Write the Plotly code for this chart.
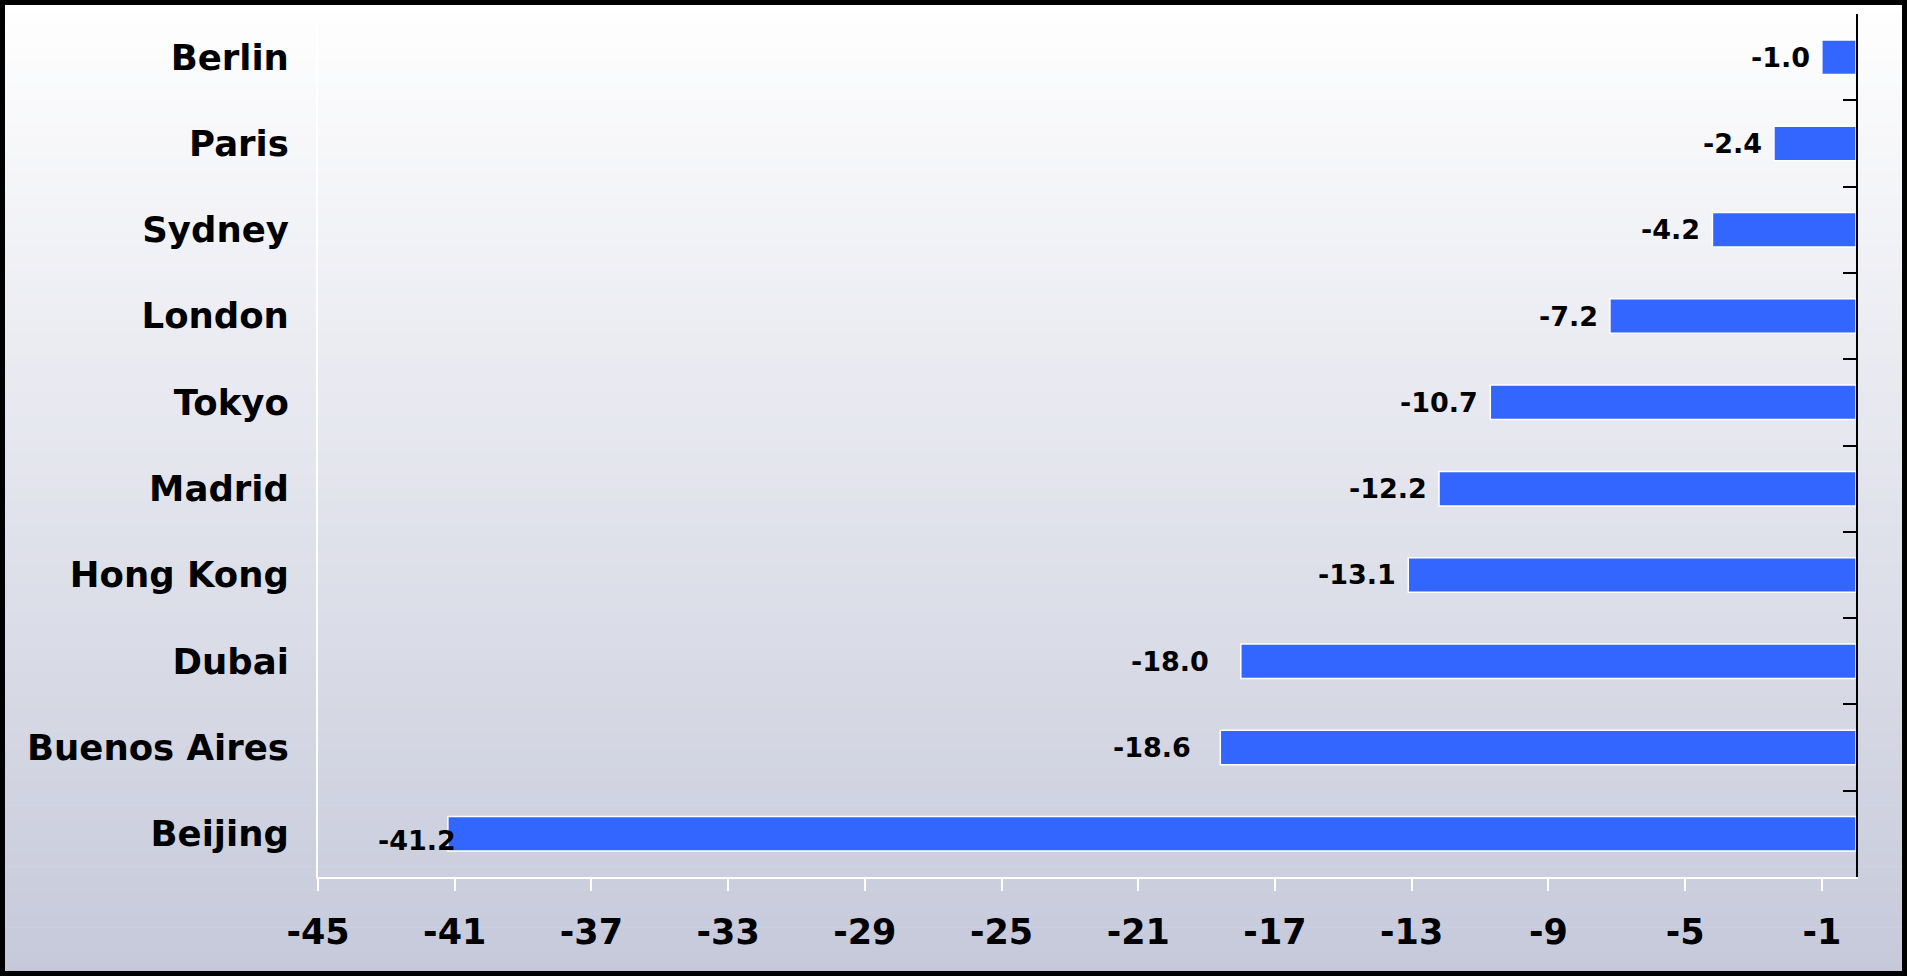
import plotly.graph_objects as go

# Change in value by city (top to bottom)
cities = ["Berlin", "Paris", "Sydney", "London", "Tokyo", "Madrid",
          "Hong Kong", "Dubai", "Buenos Aires", "Beijing"]
changes = [-1.0, -2.4, -4.2, -7.2, -10.7, -12.2, -13.1, -18.0, -18.6, -41.2]

x_ticks = [-45, -41, -37, -33, -29, -25, -21, -17, -13, -9, -5, -1]

# label placement tweaks (pixels) for the value labels
label_nudge_x = {"Dubai": -20, "Buenos Aires": -17, "Beijing": 20}
label_nudge_y = {"Beijing": -7}

W, H = 1907, 976
ML, MR, MT, MB = 318, 51, 14, 99
PW, PH = W - ML - MR, H - MT - MB

BAR_BLUE = "#3366FF"
FONT = "DejaVu Sans, Liberation Sans, Arial, sans-serif"


def px_to_paper_x(px):
    return (px - ML) / PW


def px_to_paper_y(py):
    return (H - MB - py) / PH


fig = go.Figure()

fig.add_trace(go.Bar(
    x=changes,
    y=cities,
    orientation="h",
    width=0.4,
    marker=dict(color=BAR_BLUE, line=dict(color="white", width=1.5)),
    hoverinfo="x+y",
    showlegend=False,
))

# empty trace so the right-hand boundary axis gets drawn
fig.add_trace(go.Scatter(x=[None], y=[None], yaxis="y2", showlegend=False,
                         hoverinfo="skip"))

# value labels to the left of each bar end
for city, v in zip(cities, changes):
    fig.add_annotation(
        x=v, y=city, xref="x", yref="y",
        text=f"{v:.1f}", showarrow=False,
        xanchor="right", yanchor="middle",
        xshift=-10 + label_nudge_x.get(city, 0),
        yshift=label_nudge_y.get(city, 0),
        font=dict(family=FONT, size=27, color="black", weight="bold"),
    )

# vertical background gradient (white to pale blue-grey)
shapes = []
top_rgb = (255, 255, 255)
bot_rgb = (198, 201, 218)
n_bands = 80
band = H / n_bands
for i in range(n_bands):
    t = (i + 0.5) / n_bands
    c = tuple(round(a + (b - a) * t) for a, b in zip(top_rgb, bot_rgb))
    y0 = i * band
    y1 = (i + 1) * band + 0.6
    shapes.append(dict(
        type="rect", layer="below", xref="paper", yref="paper",
        x0=px_to_paper_x(0), x1=px_to_paper_x(W),
        y0=px_to_paper_y(y1), y1=px_to_paper_y(y0),
        fillcolor=f"rgb{c}", line=dict(width=0),
    ))

# black frame around the whole chart
shapes.append(dict(
    type="rect", layer="above", xref="paper", yref="paper",
    x0=px_to_paper_x(2.5), x1=px_to_paper_x(W - 2.5),
    y0=px_to_paper_y(H - 2.5), y1=px_to_paper_y(2.5),
    line=dict(color="black", width=5), fillcolor="rgba(0,0,0,0)",
))

fig.update_layout(
    width=W, height=H,
    margin=dict(l=ML, r=MR, t=MT, b=MB, pad=0),
    paper_bgcolor="white",
    plot_bgcolor="rgba(0,0,0,0)",
    shapes=shapes,
    bargap=0.6,
    xaxis=dict(
        range=[-45, 0],
        tickmode="array", tickvals=x_ticks,
        ticktext=[str(t) for t in x_ticks],
        showgrid=False, zeroline=False,
        showline=True, linecolor="white", linewidth=2,
        ticks="outside", ticklen=12, tickwidth=2, tickcolor="white",
        ticklabelstandoff=11,
        tickfont=dict(family=FONT, size=35, color="black", weight="bold"),
    ),
    yaxis=dict(
        type="category",
        categoryorder="array", categoryarray=cities,
        range=[len(cities) - 0.5, -0.5],
        showgrid=False, zeroline=False,
        showline=True, linecolor="white", linewidth=2,
        ticks="", ticklabelstandoff=20,
        tickfont=dict(family=FONT, size=35.5, color="black", weight="bold"),
    ),
    yaxis2=dict(
        overlaying="y", side="right",
        range=[len(cities) - 0.5, -0.5],
        tickmode="array", tickvals=[i - 0.5 for i in range(len(cities) + 1)],
        showticklabels=False, showgrid=False, zeroline=False,
        showline=True, linecolor="black", linewidth=2,
        ticks="inside", ticklen=13, tickwidth=2, tickcolor="black",
    ),
)

fig.write_html("out.html")
